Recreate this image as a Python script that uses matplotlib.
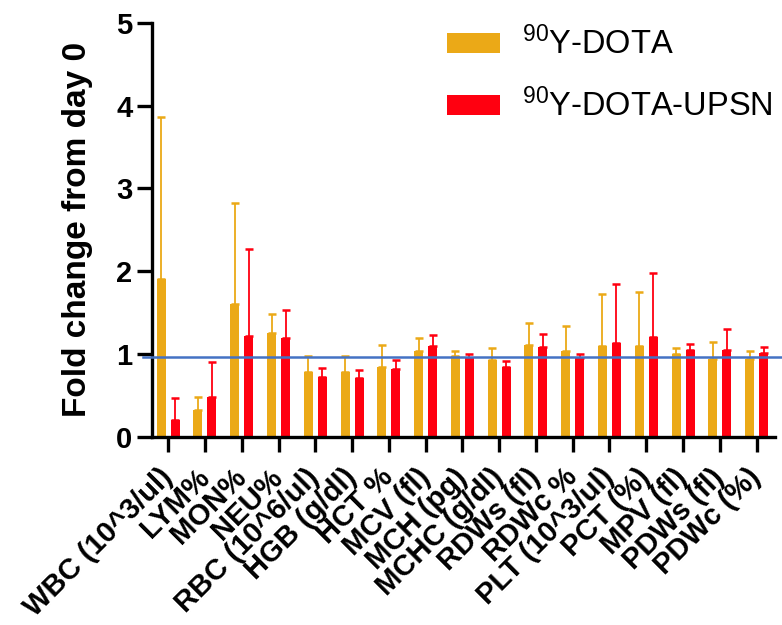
import numpy as np
import matplotlib
matplotlib.use("Agg")
import matplotlib.pyplot as plt

plt.rcParams['font.family'] = ['Liberation Sans', 'DejaVu Sans']
plt.rcParams['mathtext.default'] = 'regular'

categories = ["WBC (10^3/ul)", "LYM%", "MON%", "NEU%", "RBC (10^6/ul)", "HGB (g/dl)",
              "HCT %", "MCV (fl)", "MCH (pg)", "MCHC (g/dl)", "RDWs (fl)", "RDWc %",
              "PLT (10^3/ul)", "PCT (%)", "MPV (fl)", "PDWs (fl)", "PDWc (%)"]

dota_mean = [1.91, 0.32, 1.60, 1.26, 0.78, 0.79, 0.85, 1.04, 0.98, 0.93, 1.11, 1.04,
             1.10, 1.10, 1.00, 0.94, 0.94]
dota_top = [3.86, 0.48, 2.82, 1.48, 0.98, 0.98, 1.11, 1.20, 1.04, 1.08, 1.37, 1.34,
            1.72, 1.75, 1.08, 1.15, 1.04]

upsn_mean = [0.21, 0.48, 1.22, 1.20, 0.73, 0.71, 0.82, 1.10, 0.95, 0.85, 1.09, 0.95,
             1.13, 1.21, 1.05, 1.05, 1.01]
upsn_top = [0.47, 0.91, 2.27, 1.53, 0.83, 0.81, 0.93, 1.23, 1.00, 0.92, 1.24, 1.00,
            1.85, 1.98, 1.12, 1.30, 1.09]

ref_level = 0.96

c_dota = '#EBA917'
c_upsn = '#FF0010'

fig = plt.figure(figsize=(7.82, 6.25), dpi=100)
ax = fig.add_axes([0.1944, 0.3008, 0.7966, 0.6629])

x = np.arange(len(categories))
w = 0.245
off = 0.19

dota_err = np.array(dota_top) - np.array(dota_mean)
upsn_err = np.array(upsn_top) - np.array(upsn_mean)

b1 = ax.bar(x - off, dota_mean, w, color=c_dota, label='$^{90}$Y-DOTA', zorder=2)
b2 = ax.bar(x + off, upsn_mean, w, color=c_upsn, label='$^{90}$Y-DOTA-UPSN', zorder=2)
ax.errorbar(x - off, dota_mean, yerr=[np.zeros_like(dota_err), dota_err], fmt='none',
            ecolor=c_dota, elinewidth=1.3, capsize=3, capthick=1.8, zorder=1)
ax.errorbar(x + off, upsn_mean, yerr=[np.zeros_like(upsn_err), upsn_err], fmt='none',
            ecolor=c_upsn, elinewidth=1.3, capsize=3, capthick=1.8, zorder=1)

# reference line at day-0 level, runs a bit past both ends of the axis
ax.plot([-0.68, 16.75], [ref_level, ref_level], color='#4472C4', lw=1.8, clip_on=False, zorder=3)

ax.set_xlim(-0.44, 16.5)
ax.set_ylim(0, 5)
ax.set_yticks([0, 1, 2, 3, 4, 5])
ax.set_xticks(x)
ax.set_xticklabels(categories, rotation=45, ha='right', va='center', rotation_mode='anchor',
                   fontsize=21, fontweight='bold')
for lab in ax.get_yticklabels():
    lab.set_fontsize(21)
    lab.set_fontweight('bold')

ax.spines['top'].set_visible(False)
ax.spines['right'].set_visible(False)
for s in ['left', 'bottom']:
    ax.spines[s].set_linewidth(2.4)
ax.tick_params(axis='both', length=11, width=2.4, pad=3)
ax.tick_params(axis='x', pad=15)

ax.set_ylabel("Fold change from day 0", fontsize=24, fontweight='bold', labelpad=17)

ax.legend(handles=[b1, b2], loc='upper right', bbox_to_anchor=(1.018, 1.022), frameon=False,
          fontsize=23.5, handlelength=1.6, handleheight=0.56, handletextpad=0.7,
          labelspacing=0.85, borderaxespad=0.0)

fig.savefig("out.png", dpi=100)
